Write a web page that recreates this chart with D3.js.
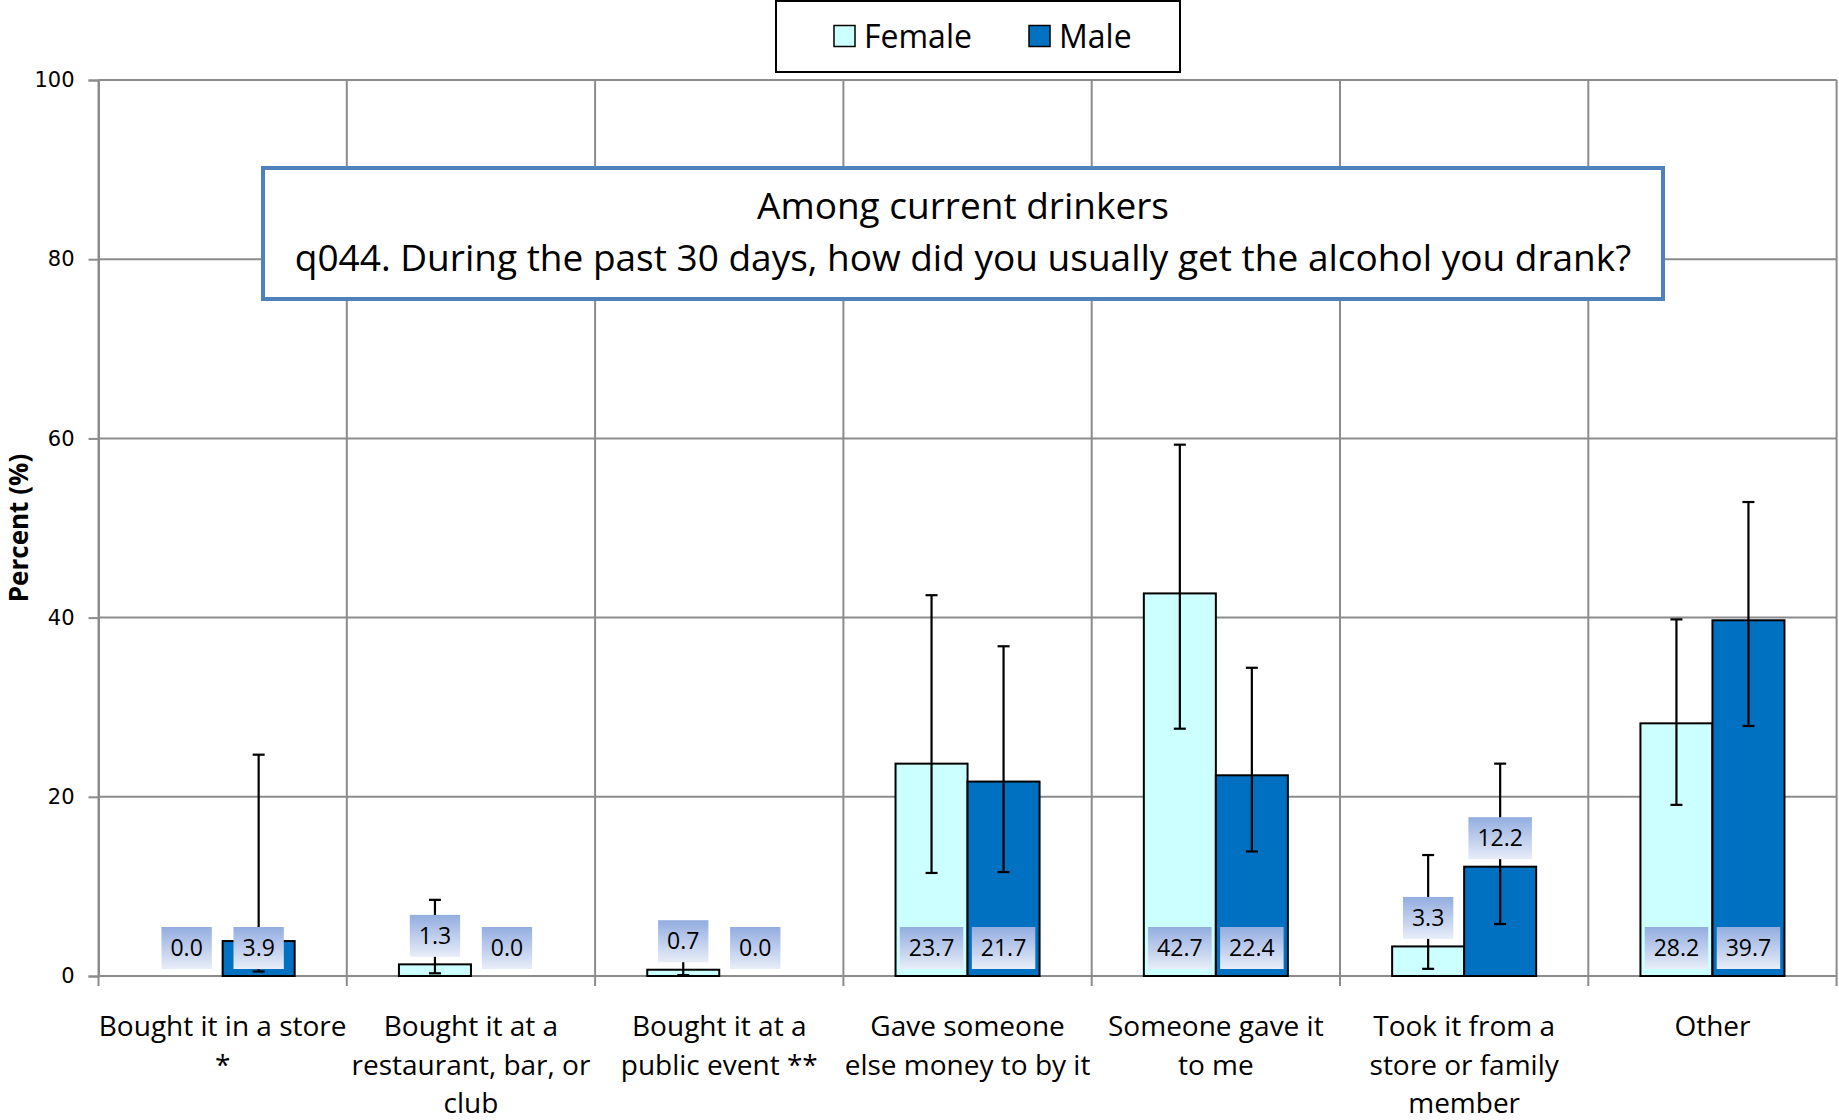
<!DOCTYPE html>
<html>
<head>
<meta charset="utf-8">
<script src="https://cdn.jsdelivr.net/npm/d3@7"></script>
<style>
  html, body { margin: 0; padding: 0; background: #fff; }
  svg { display: block; }
</style>
</head>
<body>
<svg id="chart" width="1839" height="1120"></svg>
<script>
// Source of alcohol among current drinkers, by sex (percent, with 95% CI)
const categories = [
  "Bought it in a store *",
  "Bought it at a restaurant, bar, or club",
  "Bought it at a public event **",
  "Gave someone else money to by it",
  "Someone gave it to me",
  "Took it from a store or family member",
  "Other"
];
const categoryLines = [
  ["Bought it in a store", "*"],
  ["Bought it at a", "restaurant, bar, or", "club"],
  ["Bought it at a", "public event **"],
  ["Gave someone", "else money to by it"],
  ["Someone gave it", "to me"],
  ["Took it from a", "store or family", "member"],
  ["Other"]
];
const seriesNames = ["Female", "Male"];
const femaleValues = [0.0, 1.3, 0.7, 23.7, 42.7, 3.3, 28.2];
const maleValues   = [3.9, 0.0, 0.0, 21.7, 22.4, 12.2, 39.7];
const femaleLower  = [null, 0.3, 0.1, 11.5, 27.6, 0.8, 19.1];
const femaleUpper  = [null, 8.5, 2.9, 42.5, 59.3, 13.5, 39.8];
const maleLower    = [0.5, null, null, 11.6, 13.9, 5.8, 27.9];
const maleUpper    = [24.7, null, null, 36.8, 34.4, 23.7, 52.9];
// where each value label sits: at the bar base or just above the bar end
const femaleLabelAt = ["base", "end", "end", "base", "base", "end", "base"];
const maleLabelAt   = ["base", "base", "base", "base", "base", "end", "base"];
const yTicks = [0, 20, 40, 60, 80, 100];
const titleLines = [
  "Among current drinkers",
  "q044. During the past 30 days, how did you usually get the alcohol you drank?"
];

const colors = { Female: "#ccffff", Male: "#0070c0" };
const textFont = "'Open Sans', 'Noto Sans', sans-serif";

const svg = d3.select("#chart");
const plot = { left: 98.5, right: 1836.6, top: 80, bottom: 976 };

const x = d3.scaleBand().domain(categories).range([plot.left, plot.right]).padding(0);
const xs = d3.scaleBand().domain(seriesNames).range([0, x.bandwidth()])
  .paddingInner(0).paddingOuter(0.724);
const y = d3.scaleLinear().domain([0, 100]).range([plot.bottom, plot.top]);

const rows = [];
categories.forEach((c, i) => {
  rows.push({ cat: c, s: "Female", v: femaleValues[i], lo: femaleLower[i], hi: femaleUpper[i], at: femaleLabelAt[i] });
  rows.push({ cat: c, s: "Male", v: maleValues[i], lo: maleLower[i], hi: maleUpper[i], at: maleLabelAt[i] });
});

// label background gradient
const defs = svg.append("defs");
const grad = defs.append("linearGradient").attr("id", "lblGrad")
  .attr("x1", 0).attr("y1", 0).attr("x2", 0).attr("y2", 1);
grad.append("stop").attr("offset", "0%").attr("stop-color", "#93ade0");
grad.append("stop").attr("offset", "100%").attr("stop-color", "#e8edf8");

const gridColor = "#8c8c8c";

// horizontal gridlines
svg.append("g").selectAll("line").data(yTicks).join("line")
  .attr("x1", plot.left).attr("x2", plot.right)
  .attr("y1", d => y(d)).attr("y2", d => y(d))
  .attr("stroke", gridColor).attr("stroke-width", 2);

// vertical category dividers (extend below baseline as tick marks)
const dividers = categories.map(c => x(c)).concat([plot.right]);
svg.append("g").selectAll("line").data(dividers).join("line")
  .attr("x1", d => d).attr("x2", d => d)
  .attr("y1", plot.top).attr("y2", plot.bottom + 10)
  .attr("stroke", gridColor).attr("stroke-width", 2);

// y axis
const yAxis = svg.append("g").attr("transform", `translate(${plot.left},0)`)
  .call(d3.axisLeft(y).tickValues(yTicks).tickSize(10).tickPadding(14).tickFormat(d3.format("d")));
yAxis.select(".domain").attr("stroke", gridColor).attr("stroke-width", 2);
yAxis.selectAll(".tick line").attr("stroke", gridColor).attr("stroke-width", 2);
yAxis.selectAll(".tick text").attr("font-family", "'DejaVu Sans', sans-serif")
  .attr("font-size", 21).attr("fill", "#000");

// axis title
svg.append("text")
  .attr("transform", `translate(28,${(plot.top + plot.bottom) / 2 + 0}) rotate(-90)`)
  .attr("text-anchor", "middle").attr("font-family", textFont)
  .attr("font-weight", "bold").attr("font-size", 26).attr("fill", "#000")
  .text("Percent (%)");

// bars
const bx = d => x(d.cat) + xs(d.s);
svg.append("g").selectAll("rect").data(rows.filter(d => d.v > 0)).join("rect")
  .attr("x", bx).attr("width", xs.bandwidth())
  .attr("y", d => y(d.v)).attr("height", d => y(0) - y(d.v))
  .attr("fill", d => colors[d.s]).attr("stroke", "#000").attr("stroke-width", 2);

// error bars
const eb = svg.append("g").attr("stroke", "#000").attr("stroke-width", 2.2);
rows.filter(d => d.lo != null && d.hi != null).forEach(d => {
  const cx = bx(d) + xs.bandwidth() / 2;
  eb.append("line").attr("x1", cx).attr("x2", cx).attr("y1", y(d.lo)).attr("y2", y(d.hi));
  [d.lo, d.hi].forEach(v => eb.append("line")
    .attr("x1", cx - 6).attr("x2", cx + 6).attr("y1", y(v)).attr("y2", y(v)));
});

// value labels: box sized to its text
const lblH = 42, lblPad = 9;
const lbl = svg.append("g").selectAll("g").data(rows).join("g")
  .attr("transform", d => {
    const cx = bx(d) + xs.bandwidth() / 2;
    const bottom = d.at === "end" ? y(d.v) - 7.5 : y(0) - 7;
    return `translate(${cx},${bottom - lblH})`;
  });
const lblRect = lbl.append("rect").attr("height", lblH).attr("fill", "url(#lblGrad)");
const lblText = lbl.append("text").attr("y", lblH / 2).attr("dy", "0.36em").attr("text-anchor", "middle")
  .attr("font-family", textFont).attr("font-size", 23).attr("fill", "#000")
  .text(d => d3.format(".1f")(d.v));
lblText.each(function () {
  const w = this.getComputedTextLength() + 2 * lblPad;
  d3.select(this.parentNode).select("rect").attr("x", -w / 2).attr("width", w);
});

// category labels
const catG = svg.append("g").selectAll("text").data(categories).join("text")
  .attr("text-anchor", "middle").attr("font-family", textFont)
  .attr("font-size", 28).attr("fill", "#000");
catG.each(function (c, i) {
  const t = d3.select(this);
  categoryLines[i].forEach((ln, j) => {
    t.append("tspan").attr("x", x(c) + x.bandwidth() / 2)
      .attr("y", 1036 + j * 38.5).text(ln);
  });
});

// title box
const tb = { x: 263, y: 168, w: 1400, h: 131 };
svg.append("rect").attr("x", tb.x).attr("y", tb.y).attr("width", tb.w).attr("height", tb.h)
  .attr("fill", "#fff").attr("stroke", "#4f81bd").attr("stroke-width", 4);
svg.append("g").selectAll("text").data(titleLines).join("text")
  .attr("x", tb.x + tb.w / 2).attr("y", (d, i) => 219 + i * 52)
  .attr("text-anchor", "middle").attr("font-family", textFont)
  .attr("font-size", 37).attr("fill", "#000").text(d => d);

// legend
const lg = { x: 776, y: 1, w: 404, h: 71 };
svg.append("rect").attr("x", lg.x).attr("y", lg.y).attr("width", lg.w).attr("height", lg.h)
  .attr("fill", "#fff").attr("stroke", "#000").attr("stroke-width", 2);
const legendX = { Female: 834, Male: 1029 };
const li = svg.append("g").selectAll("g").data(seriesNames).join("g")
  .attr("transform", d => `translate(${legendX[d]},36)`);
li.append("rect").attr("x", 0).attr("y", -10.5).attr("width", 21).attr("height", 21)
  .attr("fill", d => colors[d]).attr("stroke", "#000").attr("stroke-width", 1.5);
li.append("text").attr("x", 30).attr("dy", "0.36em").attr("font-family", textFont)
  .attr("font-size", 32).attr("fill", "#000").text(d => d);
</script>
</body>
</html>
